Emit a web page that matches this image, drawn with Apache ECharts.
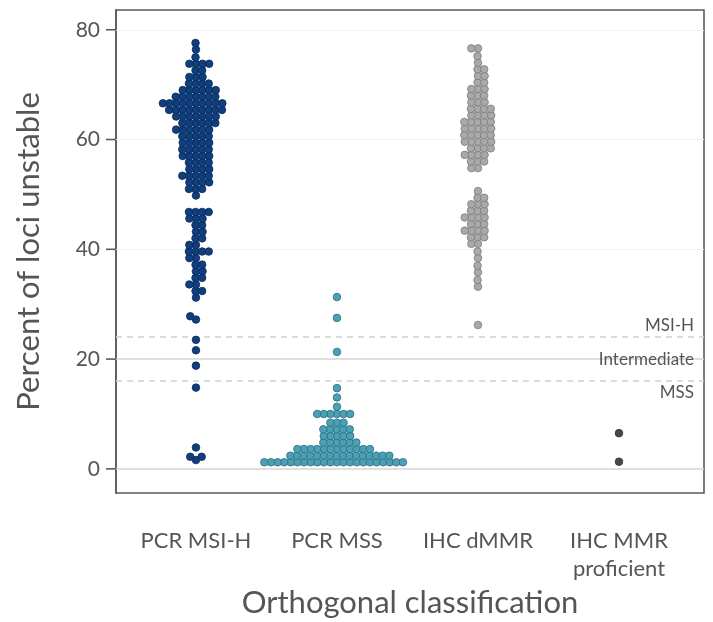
<!DOCTYPE html>
<html>
<head>
<meta charset="utf-8">
<script src="https://cdn.jsdelivr.net/npm/echarts@6/dist/echarts.min.js"></script>
<style>
html,body{margin:0;padding:0;background:#fff;}
#chart{width:713px;height:622px;}
</style>
</head>
<body>
<div id="chart"></div>
<script>
const categories = ['PCR MSI-H', 'PCR MSS', 'IHC dMMR', 'IHC MMR\nproficient'];
const yTicks = [0, 20, 40, 60, 80];

// values (percent of loci unstable) and number of samples at each value
const msiHValues = [77.6, 76.4, 75.0, 73.8, 72.6, 71.4, 70.2, 69.0, 67.8, 66.6, 65.4, 64.2, 63.0, 61.8, 60.6, 59.4, 58.2, 57.0, 55.8, 54.6, 53.4, 52.2, 51.0, 49.8, 46.8, 45.6, 44.4, 43.2, 42.0, 40.8, 39.6, 38.4, 37.2, 36.0, 34.8, 33.6, 32.4, 31.2, 27.8, 27.2, 23.5, 21.6, 18.8, 14.8, 3.9, 2.2, 1.6];
const msiHCounts = [1, 1, 1, 4, 2, 3, 4, 6, 7, 10, 9, 7, 6, 6, 5, 5, 5, 5, 4, 4, 5, 4, 3, 1, 4, 3, 2, 2, 2, 2, 4, 2, 2, 2, 2, 2, 2, 1, 1, 1, 1, 1, 1, 1, 1, 2, 1];

const mssValues = [1.2, 2.4, 3.6, 4.8, 6.0, 7.2, 8.4, 10.0, 11.3, 13.0, 14.7, 21.3, 27.5, 31.3];
const mssCounts = [22, 16, 12, 6, 5, 5, 3, 6, 1, 1, 1, 1, 1, 1];

const dmmrValues = [76.6, 75.2, 74.0, 72.8, 71.6, 70.4, 69.2, 68.0, 66.8, 65.6, 64.4, 63.2, 62.0, 60.8, 59.6, 58.4, 57.2, 56.0, 54.8, 50.6, 49.4, 48.2, 47.0, 45.8, 44.6, 43.4, 42.2, 41.0, 39.6, 38.4, 37.0, 35.8, 34.4, 33.2, 26.2];
const dmmrCounts = [2, 1, 1, 2, 2, 2, 3, 3, 3, 4, 4, 5, 5, 5, 5, 4, 4, 3, 2, 1, 2, 3, 3, 4, 3, 4, 3, 2, 1, 1, 1, 1, 1, 1, 1];

const pmmrValues = [6.5, 1.3];
const pmmrCounts = [1, 1];

const thresholdMSIH = 24;
const thresholdMid = 20;
const thresholdMSS = 16;

// layout (category k is drawn at x = k + 1)
const G = {left: 116, top: 10, width: 588, height: 483};
const Y_MIN = -4.4, Y_MAX = 83.6;
const X_MIN = 0.433, X_MAX = 4.603;
const yk = G.height / (Y_MAX - Y_MIN);
const xk = G.width / (X_MAX - X_MIN);
const D = 6.6; // collision diameter in px

function swarm(values, counts, cx) {
  const pts = [];
  values.forEach((v, i) => { for (let k = 0; k < counts[i]; k++) pts.push(v); });
  pts.sort((a, b) => a - b);
  const placed = [];
  const out = [];
  pts.forEach(v => {
    const y = v * yk;
    const cands = [0];
    placed.forEach(p => {
      const dy = Math.abs(p.y - y);
      if (dy < D) {
        const dx = Math.sqrt(D * D - dy * dy);
        cands.push(p.x + dx, p.x - dx);
      }
    });
    cands.sort((a, b) => Math.abs(a) - Math.abs(b) || a - b);
    let chosen = 0;
    for (const c of cands) {
      let ok = true;
      for (const p of placed) {
        const dx = p.x - c, dy = p.y - y;
        if (dx * dx + dy * dy < D * D - 1e-6) { ok = false; break; }
      }
      if (ok) { chosen = c; break; }
    }
    placed.push({x: chosen, y: y});
    out.push([cx + chosen / xk, v]);
  });
  return out;
}

const FONT = 'Lato, "Open Sans", sans-serif';
const TXT = '#555';
const AXIS_COLOR = '#5a5a5a';

const chart = echarts.init(document.getElementById('chart'), null, {renderer: 'canvas'});

function pointSeries(data, fill, edge) {
  return {
    type: 'scatter',
    data: data,
    symbol: 'circle',
    symbolSize: 7.6,
    z: 3,
    itemStyle: {color: fill, borderColor: edge, borderWidth: 0.8, opacity: 1},
    silent: true
  };
}

chart.setOption({
  animation: false,
  backgroundColor: '#fff',
  grid: {left: G.left, top: G.top, width: G.width, height: G.height, show: true, borderColor: AXIS_COLOR, borderWidth: 1.6, backgroundColor: 'transparent', containLabel: false, outerBoundsMode: 'none'},
  xAxis: {
    type: 'value', min: X_MIN, max: X_MAX, position: 'bottom',
    axisLine: {show: false, onZero: false},
    axisTick: {show: false},
    splitLine: {show: false},
    axisLabel: {
      customValues: [1, 2, 3, 4],
      formatter: v => categories[Math.round(v) - 1] || '',
      fontFamily: FONT, fontSize: 22, color: TXT, margin: 34, lineHeight: 28
    },
    name: 'Orthogonal classification',
    nameLocation: 'middle', nameGap: 92,
    nameTextStyle: {fontFamily: FONT, fontSize: 31, color: TXT}
  },
  yAxis: {
    type: 'value', min: Y_MIN, max: Y_MAX, position: 'left',
    axisLine: {show: true, onZero: false, lineStyle: {color: AXIS_COLOR, width: 1.6}},
    axisTick: {show: false},
    axisLabel: {customValues: yTicks, fontFamily: FONT, fontSize: 21, color: TXT, margin: 16},
    splitLine: {show: false},
    name: 'Percent of loci unstable',
    nameLocation: 'middle', nameGap: 72,
    nameTextStyle: {fontFamily: FONT, fontSize: 31, color: TXT}
  },
  series: [
    {
      type: 'line', data: [], z: 1, silent: true,
      markLine: {
        silent: true, symbol: 'none', animation: false, z: 1,
        data: [
          {yAxis: 0, lineStyle: {color: '#d4d4d4', width: 1.5, type: 'solid'}, label: {show: false}},
          {yAxis: 40, lineStyle: {color: '#f3f3f3', width: 1, type: 'solid'}, label: {show: false}},
          {yAxis: 60, lineStyle: {color: '#f3f3f3', width: 1, type: 'solid'}, label: {show: false}},
          {yAxis: 80, lineStyle: {color: '#f3f3f3', width: 1, type: 'solid'}, label: {show: false}},
          {yAxis: thresholdMid, lineStyle: {color: '#d4d4d4', width: 1.5, type: 'solid'},
            label: {show: true, formatter: 'Intermediate', position: 'insideEnd', distance: [10, 0], fontFamily: FONT, fontSize: 17, color: TXT}},
          {yAxis: thresholdMSIH, lineStyle: {color: '#d0d0d0', width: 1.5, type: [6, 5]},
            label: {show: true, formatter: 'MSI-H', position: 'insideEndTop', distance: [10, 3], fontFamily: FONT, fontSize: 17, color: TXT}},
          {yAxis: thresholdMSS, lineStyle: {color: '#d0d0d0', width: 1.5, type: [6, 5]},
            label: {show: true, formatter: 'MSS', position: 'insideEndBottom', distance: [10, 3], fontFamily: FONT, fontSize: 17, color: TXT}}
        ]
      }
    },
    // y-axis tick marks: short bars sitting at the left edge of the frame, outside it
    {
      type: 'scatter',
      data: yTicks.map(v => [X_MIN, v]),
      symbol: 'rect',
      symbolSize: [10, 1.6],
      symbolOffset: [-5, 0],
      clip: false,
      z: 10,
      silent: true,
      itemStyle: {color: AXIS_COLOR, opacity: 1}
    },
    pointSeries(swarm(msiHValues, msiHCounts, 1), '#0f3f7e', '#0a2a58'),
    pointSeries(swarm(mssValues, mssCounts, 2), '#4aa1b6', '#2c6b7c'),
    pointSeries(swarm(dmmrValues, dmmrCounts, 3), '#a9a9a9', '#7b7b7b'),
    pointSeries(swarm(pmmrValues, pmmrCounts, 4), '#484848', '#2e2e2e')
  ]
});
</script>
</body>
</html>
